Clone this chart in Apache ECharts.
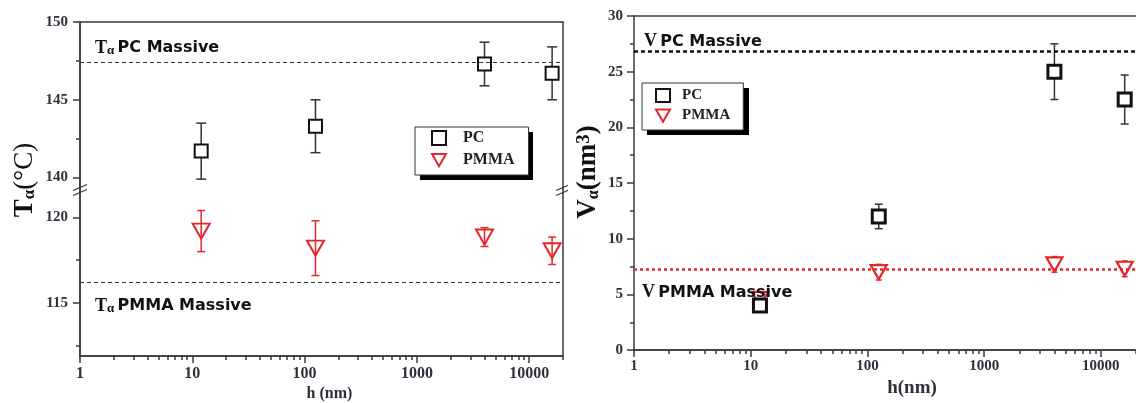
<!DOCTYPE html>
<html>
<head>
<meta charset="utf-8">
<script src="https://cdn.jsdelivr.net/npm/echarts@6/dist/echarts.min.js"></script>
<style>
  html, body { margin: 0; padding: 0; background: #fff; }
  #wrap { position: relative; width: 1136px; height: 403px; overflow: hidden; }
  #left { position: absolute; left: 0; top: 0; width: 568px; height: 403px; }
  #right { position: absolute; left: 568px; top: 0; width: 568px; height: 403px; }
</style>
</head>
<body>
<div id="wrap"><div id="left"></div><div id="right"></div></div>
<script>
// Film thickness h (nm)
const thickness = [12, 125, 4000, 16000];

// Relaxation temperature T_alpha (°C) with error half-widths
const tAlphaPC = [141.7, 143.3, 147.3, 146.7];
const tAlphaPCErr = [1.8, 1.7, 1.4, 1.7];
const tAlphaPMMA = [119.2, 118.2, 118.85, 118.05];
const tAlphaPMMAErr = [1.2, 1.6, 0.55, 0.8];
const tAlphaBulkPC = 147.4;
const tAlphaBulkPMMA = 116.2;

// Cooperativity volume V_alpha (nm^3) with error half-widths
const vAlphaPC = [4.0, 12.0, 25.0, 22.5];
const vAlphaPCErr = [0.4, 1.1, 2.5, 2.2];
const vAlphaPMMA = [4.6, 7.0, 7.7, 7.3];
const vAlphaPMMAErr = [0.3, 0.7, 0.7, 0.7];
const vAlphaBulkPC = 26.8;
const vAlphaBulkPMMA = 7.3;

// Tick values
const hMajorTicks = [1, 10, 100, 1000, 10000];
const tUpperTicks = [140, 145, 150];
const tUpperMinor = [142.5, 147.5];
const tLowerTicks = [115, 120];
const tLowerMinor = [112.5, 117.5];

const H_MIN = 1, H_MAX = 20000;
const hMinorTicks = [];
for (let d = 1; d <= 10000; d *= 10) {
  for (let m = 2; m <= 9; m++) if (m * d <= H_MAX) hMinorTicks.push(m * d);
}

const SERIF = '"Liberation Serif", "Times New Roman", serif';
const SANS = '"DejaVu Sans", "Noto Sans", sans-serif';
const RED = '#e3282d';
const AXIS = '#3a3a3a';
const LABEL = '#30303c';

function errorBars(xs, ys, errs, color, lineWidth, capHalf, axes) {
  return Object.assign({
    type: 'custom',
    silent: true,
    z: 2,
    data: xs.map((x, i) => [x, ys[i] - errs[i], ys[i] + errs[i]]),
    encode: { x: 0, y: [1, 2] },
    renderItem(params, api) {
      const lo = api.coord([api.value(0), api.value(1)]);
      const hi = api.coord([api.value(0), api.value(2)]);
      const st = { stroke: color, lineWidth: lineWidth };
      return {
        type: 'group',
        children: [
          { type: 'line', shape: { x1: hi[0], y1: hi[1], x2: lo[0], y2: lo[1] }, style: st },
          { type: 'line', shape: { x1: hi[0] - capHalf, y1: hi[1], x2: hi[0] + capHalf, y2: hi[1] }, style: st },
          { type: 'line', shape: { x1: lo[0] - capHalf, y1: lo[1], x2: lo[0] + capHalf, y2: lo[1] }, style: st }
        ]
      };
    }
  }, axes);
}

function points(xs, ys) { return xs.map((x, i) => [x, ys[i]]); }

const lineStyleAxis = { color: AXIS, width: 1.5 };
const tickLabel = { fontFamily: SERIF, fontWeight: 'bold', fontSize: 15, color: LABEL };
const plainNumber = (v) => String(v);

function logAxis(extra) {
  return Object.assign({
    type: 'log', logBase: 10, min: H_MIN, max: H_MAX,
    axisLine: { show: true, lineStyle: lineStyleAxis },
    splitLine: { show: false }, axisTick: { show: false }, axisLabel: { show: false }
  }, extra);
}
function valAxis(extra) {
  return Object.assign({
    type: 'value',
    axisLine: { show: true, lineStyle: lineStyleAxis },
    splitLine: { show: false }, axisTick: { show: false }, axisLabel: { show: false }
  }, extra);
}

const TRI = 'path://M0,0L16,0L8,14Z';

const massiveRich = {
  t: { fontFamily: SERIF, fontWeight: 'bold', fontSize: 18, color: '#111' },
  a: { fontFamily: SERIF, fontWeight: 'bold', fontSize: 13, color: '#111', verticalAlign: 'bottom', padding: [6, 0, 0, 0] },
  s: { fontFamily: SANS, fontWeight: 'bold', fontSize: 16, color: '#111' }
};

// Legend box with a solid drop shadow drawn behind it
function legendBox(box, itemH, gap, pad, textPad, fontSize) {
  return {
    legend: {
      data: ['PC', 'PMMA'], orient: 'vertical', left: box.left, top: box.top,
      itemWidth: 14, itemHeight: itemH, itemGap: gap,
      padding: pad,
      backgroundColor: '#fff', borderColor: '#333', borderWidth: 1,
      textStyle: { fontFamily: SERIF, fontWeight: 'bold', fontSize: fontSize, color: '#222', padding: [0, 0, 0, textPad] },
      selectedMode: false, z: 6
    },
    shadow: {
      type: 'rect', silent: true, z: 5,
      shape: { x: box.left + 5, y: box.top + 5, width: box.width, height: box.height },
      style: { fill: '#000' }
    }
  };
}

/* ---------- left panel: T_alpha with broken axis ---------- */
const L = { left: 80, top: 22, width: 483, breakY: 190, bottom: 356 };
const upperMin = 139.2, upperMax = 150, lowerMin = 111.9, lowerMax = 121.6;

function breakMark(x, y) {
  const mk = (dy) => ({
    type: 'line', silent: true, z: 10,
    shape: { x1: x - 7, y1: y + dy + 3, x2: x + 7, y2: y + dy - 3 },
    style: { stroke: AXIS, lineWidth: 1.3 }
  });
  return [mk(-2.5), mk(2.5)];
}

const leftLegend = legendBox({ left: 415, top: 127, width: 113, height: 48 }, 14, 6, [3, 14, 7, 16], 12, 16);

const leftChart = echarts.init(document.getElementById('left'), null, { renderer: 'canvas' });
leftChart.setOption({
  animation: false,
  backgroundColor: '#fff',
  grid: [
    { left: L.left, top: L.top, width: L.width, height: L.breakY - L.top },
    { left: L.left, top: L.breakY, width: L.width, height: L.bottom - L.breakY }
  ],
  xAxis: [
    logAxis({ gridIndex: 0, position: 'top' }),
    logAxis({
      gridIndex: 1, position: 'bottom',
      axisTick: { show: true, length: 7, customValues: hMajorTicks, lineStyle: lineStyleAxis },
      axisLabel: { show: true, customValues: hMajorTicks, margin: 10, formatter: plainNumber, ...tickLabel, fontSize: 16 },
      name: 'h (nm)', nameLocation: 'middle', nameGap: 30,
      nameTextStyle: { fontFamily: SERIF, fontWeight: 'bold', fontSize: 16, color: LABEL, padding: [0, 0, 0, 16] }
    }),
    logAxis({
      gridIndex: 1, position: 'bottom',
      axisTick: { show: true, length: 4, customValues: hMinorTicks, lineStyle: lineStyleAxis }
    })
  ],
  yAxis: [
    valAxis({
      gridIndex: 0, position: 'left', min: upperMin, max: upperMax,
      axisTick: { show: true, length: 7, customValues: tUpperTicks, lineStyle: lineStyleAxis },
      axisLabel: { show: true, customValues: tUpperTicks, margin: 12, ...tickLabel }
    }),
    valAxis({
      gridIndex: 0, position: 'left', min: upperMin, max: upperMax,
      axisTick: { show: true, length: 4, customValues: tUpperMinor, lineStyle: lineStyleAxis }
    }),
    valAxis({ gridIndex: 0, position: 'right', min: upperMin, max: upperMax }),
    valAxis({
      gridIndex: 1, position: 'left', min: lowerMin, max: lowerMax,
      axisTick: { show: true, length: 7, customValues: tLowerTicks, lineStyle: lineStyleAxis },
      axisLabel: { show: true, customValues: tLowerTicks, margin: 12, ...tickLabel }
    }),
    valAxis({
      gridIndex: 1, position: 'left', min: lowerMin, max: lowerMax,
      axisTick: { show: true, length: 4, customValues: tLowerMinor, lineStyle: lineStyleAxis }
    }),
    valAxis({ gridIndex: 1, position: 'right', min: lowerMin, max: lowerMax })
  ],
  legend: leftLegend.legend,
  graphic: [
    leftLegend.shadow,
    {
      type: 'text', x: 25, y: 180, rotation: Math.PI / 2, silent: true,
      style: {
        text: '{b|T}{s|α}{n|(°C)}', align: 'center', verticalAlign: 'middle',
        rich: {
          b: { fontFamily: SERIF, fontWeight: 'bold', fontSize: 27, fill: '#111' },
          s: { fontFamily: SERIF, fontWeight: 'bold', fontSize: 17, fill: '#111', verticalAlign: 'bottom' },
          n: { fontFamily: SERIF, fontWeight: 'normal', fontSize: 27, fill: '#111' }
        }
      }
    },
    ...breakMark(L.left, L.breakY),
    ...breakMark(L.left + L.width, L.breakY)
  ],
  series: [
    errorBars(thickness, tAlphaPC, tAlphaPCErr, '#333', 1.5, 5, { xAxisIndex: 0, yAxisIndex: 0 }),
    {
      type: 'scatter', name: 'PC', xAxisIndex: 0, yAxisIndex: 0, z: 4,
      data: points(thickness, tAlphaPC),
      symbol: 'rect', symbolSize: 13,
      itemStyle: { color: '#fff', borderColor: '#111', borderWidth: 2, opacity: 1 },
      markLine: {
        silent: true, symbol: 'none', animation: false,
        lineStyle: { type: [4, 3], color: '#333', width: 1 },
        label: {
          show: true, position: 'insideStartTop', distance: [15, 5],
          formatter: '{t|T}{a|α} {s|PC Massive}', rich: massiveRich
        },
        data: [{ yAxis: tAlphaBulkPC }]
      }
    },
    errorBars(thickness, tAlphaPMMA, tAlphaPMMAErr, RED, 1.5, 4, { xAxisIndex: 1, yAxisIndex: 3 }),
    {
      type: 'scatter', name: 'PMMA', xAxisIndex: 1, yAxisIndex: 3, z: 3,
      data: points(thickness, tAlphaPMMA),
      symbol: TRI, symbolSize: [17, 15],
      itemStyle: { color: 'rgba(255,255,255,0)', borderColor: RED, borderWidth: 2, opacity: 1 },
      markLine: {
        silent: true, symbol: 'none', animation: false,
        lineStyle: { type: [4, 3], color: '#333', width: 1 },
        label: {
          show: true, position: 'insideStartBottom', distance: [15, 14],
          formatter: '{t|T}{a|α} {s|PMMA Massive}', rich: massiveRich
        },
        data: [{ yAxis: tAlphaBulkPMMA }]
      }
    }
  ]
});

/* ---------- right panel: V_alpha ---------- */
const R = { left: 66, top: 16, width: 503, height: 341 };
const rightLegend = legendBox({ left: 74, top: 83, width: 102, height: 47 }, 13, 5, [5, 13, 7, 13], 7, 15);
const rightRich = {
  t: { fontFamily: SERIF, fontWeight: 'bold', fontSize: 18, color: '#111' },
  s: { fontFamily: SANS, fontWeight: 'bold', fontSize: 16, color: '#111' }
};
const rightChart = echarts.init(document.getElementById('right'), null, { renderer: 'canvas' });
rightChart.setOption({
  animation: false,
  backgroundColor: '#fff',
  grid: { left: R.left, top: R.top, width: R.width, height: R.height },
  xAxis: [
    logAxis({
      position: 'bottom',
      axisTick: { show: true, length: 7, customValues: hMajorTicks, lineStyle: lineStyleAxis },
      axisLabel: { show: true, customValues: hMajorTicks, margin: 9, formatter: plainNumber, ...tickLabel },
      name: 'h(nm)', nameLocation: 'middle', nameGap: 28,
      nameTextStyle: { fontFamily: SERIF, fontWeight: 'bold', fontSize: 19, color: LABEL, padding: [0, 0, 0, 54] }
    }),
    logAxis({
      position: 'bottom',
      axisTick: { show: true, length: 4, customValues: hMinorTicks, lineStyle: lineStyleAxis }
    }),
    logAxis({ position: 'top' })
  ],
  yAxis: [
    valAxis({
      position: 'left', min: 0, max: 30, interval: 5,
      axisTick: { show: true, length: 7, lineStyle: lineStyleAxis },
      minorTick: { show: true, splitNumber: 2, length: 4, lineStyle: lineStyleAxis },
      axisLabel: { show: true, margin: 11, ...tickLabel }
    })
  ],
  legend: rightLegend.legend,
  graphic: [
    rightLegend.shadow,
    {
      type: 'text', x: 20, y: 172, rotation: Math.PI / 2, silent: true,
      style: {
        text: '{b|V}{s|α}{b|(nm}{p|3}{b|)}', align: 'center', verticalAlign: 'middle',
        rich: {
          b: { fontFamily: SERIF, fontWeight: 'bold', fontSize: 27, fill: '#111' },
          s: { fontFamily: SERIF, fontWeight: 'bold', fontSize: 16, fill: '#111', verticalAlign: 'bottom' },
          p: { fontFamily: SERIF, fontWeight: 'bold', fontSize: 19, fill: '#111', verticalAlign: 'top' }
        }
      }
    }
  ],
  series: [
    errorBars(thickness, vAlphaPMMA, vAlphaPMMAErr, RED, 1.5, 3, {}),
    {
      type: 'scatter', name: 'PMMA', z: 3,
      data: points(thickness, vAlphaPMMA),
      symbol: TRI, symbolSize: [16, 14],
      itemStyle: { color: '#fff', borderColor: RED, borderWidth: 2.2, opacity: 1 },
      markLine: {
        silent: true, symbol: 'none', animation: false,
        lineStyle: { type: [3, 3], color: RED, width: 2.5 },
        label: {
          show: true, position: 'insideStartBottom', distance: [8, 15],
          formatter: '{t|V} {s|PMMA Massive}', rich: rightRich
        },
        data: [{ yAxis: vAlphaBulkPMMA }]
      }
    },
    errorBars(thickness, vAlphaPC, vAlphaPCErr, '#333', 1.5, 4, {}),
    {
      type: 'scatter', name: 'PC', z: 4,
      data: points(thickness, vAlphaPC),
      symbol: 'rect', symbolSize: 13,
      itemStyle: { color: '#fff', borderColor: '#111', borderWidth: 3, opacity: 1 },
      markLine: {
        silent: true, symbol: 'none', animation: false,
        lineStyle: { type: [4, 3], color: '#111', width: 2.5 },
        label: {
          show: true, position: 'insideStartTop', distance: [10, 1],
          formatter: '{t|V} {s|PC Massive}', rich: rightRich
        },
        data: [{ yAxis: vAlphaBulkPC }]
      }
    }
  ]
});
</script>
</body>
</html>
